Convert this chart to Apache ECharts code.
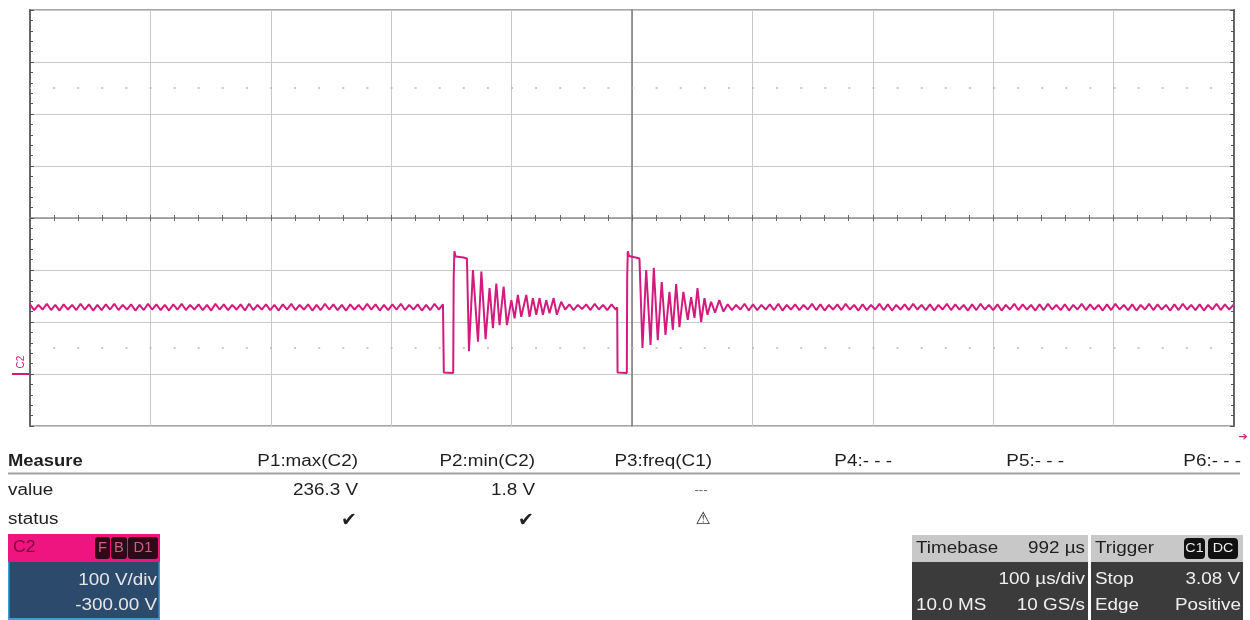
<!DOCTYPE html>
<html>
<head>
<meta charset="utf-8">
<script src="https://cdn.jsdelivr.net/npm/echarts@6/dist/echarts.min.js"></script>
<style>
html,body{margin:0;padding:0;background:#fff;}
#c{width:1250px;height:620px;}
</style>
</head>
<body>
<div id="c"></div>
<script>
// ---- Data (µs, V) ----
const rippleStep = 3.5;
const rippleAStart = -500;
const rippleA = [
134,123,133,124,135,123,133,122,134,124,133,123,135,124,134,122,133,123,134,124,
135,123,133,124,134,122,133,123,135,124,134,123,133,122,134,124,135,123,133,124,
134,123,133,122,135,124,134,123,133,124,134,122,135,123,133,124,134,123,133,122,
134,124,135,123,133,124,134,122,133,123,135,124,134,123,133,122,134,124,133,123,
135,124,134,122,133,123,134,124,135,123,133,124,134,122,133,123,135,124,134
];
const pulse1 = [
[-156.3,3],[-148.5,2],[-148.1,185],[-147.5,236],[-146.5,226],[-140,224],[-137.1,222],
[-135.4,44],[-132.1,200],[-127.9,62],[-125.1,197],[-121.6,67],[-118.3,165],[-115.5,88],
[-112.7,174],[-110.0,94],[-106.6,168],[-103.9,94],[-100.2,142],[-97.5,107],[-94.8,152],
[-92.0,110],[-87.8,152],[-85.1,110],[-82.3,146],[-79.5,114],[-76.8,146],[-74.0,114],
[-71.2,142],[-68.5,117],[-65.1,146],[-62.4,114],[-58.8,139]
];
const rippleBStart = -55.5;
const rippleB = [124,134,123,133,125,134,123,135,124,133,123,134,124];
const pulse2 = [
[-12.3,128],[-12.0,3],[-4.3,2],[-4.0,185],[-3.5,236],[-2.5,227],[3,224],[6.2,222],
[8.7,50],[11.8,200],[15.4,56],[18.1,204],[21.4,65],[24.7,177],[27.8,75],[31.1,158],
[33.9,85],[36.7,173],[39.4,90],[42.7,158],[46.3,104],[49.1,148],[51.9,108],[54.4,165],
[57.4,100],[60.2,146],[62.7,114],[65.7,139],[69,118],[72.5,142],[76,120]
];
const rippleCStart = 79.5;
const rippleC = [
134,123,133,124,135,122,134,123,133,124,134,123,135,122,133,124,134,123,133,124,
135,123,134,122,133,124,134,123,135,124,133,122,134,123,133,124,135,123,134,122,
133,124,134,123,135,124,133,123,134,122,133,124,135,123,134,124,133,122,134,123,
135,124,133,123,134,122,133,124,135,123,134,124,133,122,134,123,135,124,133,123,
134,122,133,124,135,123,134,124,133,122,134,123,135,124,133,123,134,122,133,124,
135,123,134,124,133,122,134,123,135,124,133,123,134,122,133,124,135,123,134,124,
133
];
const dottedRows = [550, 50];

const measureHeaders = ['P1:max(C2)','P2:min(C2)','P3:freq(C1)','P4:- - -','P5:- - -','P6:- - -'];
const measureValues = ['236.3 V','1.8 V','---','','',''];
const measureStatus = ['✔','✔','⚠','','',''];

// ---- build trace ----
const seg = (start, arr) => arr.map((v, i) => [start + i * rippleStep, v]);
const trace = [].concat(seg(rippleAStart, rippleA), pulse1, seg(rippleBStart, rippleB), pulse2, seg(rippleCStart, rippleC));

const chart = echarts.init(document.getElementById('c'), null, {renderer:'canvas'});

const FONT = 'Liberation Sans, Arial, sans-serif';
function txt(x, y, s, o) {
  o = o || {};
  return {
    type:'text', x:x, y:y, scaleX:o.sx || 1.18, z:o.z || 10,
    style:{text:s, x:0, y:0, fill:o.fill || '#1e1e1e', align:o.align || 'left', verticalAlign:'middle',
      font:(o.bold ? 'bold ' : '') + (o.size || 16) + 'px ' + (o.family || FONT)}
  };
}
function rect(x, y, w, h, fill, r, z) {
  return {type:'rect', z:z || 5, shape:{x:x, y:y, width:w, height:h, r:r || 0}, style:{fill:fill}};
}

const colRight = [358, 535, 712, 892, 1064, 1241];
const gfx = [];
gfx.push(txt(8, 462, 'Measure', {bold:true, sx:1.15}));
gfx.push(txt(8, 491, 'value'));
gfx.push(txt(8, 520, 'status'));
gfx.push({type:'line', z:5, shape:{x1:8, y1:473.5, x2:1240, y2:473.5}, style:{stroke:'#a0a0a0', lineWidth:2}});
measureHeaders.forEach((h, i) => gfx.push(txt(colRight[i], 462, h, {align:'right'})));
measureValues.forEach((v, i) => {
  if (!v) return;
  if (v === '---') gfx.push(txt(701, 491, v, {align:'center', size:12, fill:'#666', sx:1.1}));
  else gfx.push(txt(colRight[i], 491, v, {align:'right'}));
});
measureStatus.forEach((s, i) => {
  if (!s) return;
  if (s === '⚠') gfx.push(txt(703, 520, s, {align:'center', size:17, fill:'#333', sx:1, family:'DejaVu Sans'}));
  else gfx.push(txt(colRight[i] - 1, 521, s, {align:'right', size:19, fill:'#222', sx:1, family:'DejaVu Sans'}));
});

// C2 channel box
gfx.push(rect(8, 534, 152, 86, '#3d9fd8'));
gfx.push(rect(9.5, 562, 149, 56, '#2c4b6c', 0, 6));
gfx.push(rect(8, 534, 152, 28, '#ee1580', 0, 6));
gfx.push(txt(13, 548, 'C2', {fill:'#7d0838', sx:1.1}));
[[95,15,'F'],[111,16,'B'],[128,30,'D1']].forEach(b => {
  gfx.push(rect(b[0], 537, b[1], 22, '#2e0a18', 3, 7));
  gfx.push(txt(b[0] + b[1] / 2, 548, b[2], {align:'center', fill:'#c86088', size:14, sx:1.05, z:8}));
});
gfx.push(txt(157, 581, '100 V/div', {align:'right', fill:'#e6e6e6', z:8}));
gfx.push(txt(157, 606, '-300.00 V', {align:'right', fill:'#e6e6e6', z:8}));

// Timebase box
gfx.push(rect(912, 535, 176, 85, '#3b3b3b'));
gfx.push(rect(912, 535, 176, 27, '#c8c8c8', 0, 6));
gfx.push(txt(916, 549, 'Timebase', {z:8}));
gfx.push(txt(1085, 549, '992 µs', {align:'right', z:8}));
gfx.push(txt(1085, 580, '100 µs/div', {align:'right', fill:'#f0f0f0', z:8}));
gfx.push(txt(916, 606, '10.0 MS', {fill:'#f0f0f0', z:8}));
gfx.push(txt(1085, 606, '10 GS/s', {align:'right', fill:'#f0f0f0', z:8}));

// Trigger box
gfx.push(rect(1091, 535, 152, 85, '#3b3b3b'));
gfx.push(rect(1091, 535, 152, 27, '#c8c8c8', 0, 6));
gfx.push(txt(1095, 549, 'Trigger', {z:8}));
[[1184,21,'C1'],[1208,30,'DC']].forEach(b => {
  gfx.push(rect(b[0], 538, b[1], 21, '#111', 4, 7));
  gfx.push(txt(b[0] + b[1] / 2, 548.5, b[2], {align:'center', fill:'#eee', size:13, sx:1.1, z:8}));
});
gfx.push(txt(1095, 580, 'Stop', {fill:'#f0f0f0', z:8}));
gfx.push(txt(1240, 580, '3.08 V', {align:'right', fill:'#f0f0f0', z:8}));
gfx.push(txt(1095, 606, 'Edge', {fill:'#f0f0f0', z:8}));
gfx.push(txt(1241, 606, 'Positive', {align:'right', fill:'#f0f0f0', z:8}));

// channel ground marker and trigger arrow
gfx.push({type:'text', x:21, y:362, rotation:Math.PI/2, z:10,
  style:{text:'C2', fill:'#d21b7d', font:'10px ' + FONT, align:'center', verticalAlign:'middle'}});
gfx.push({type:'line', z:10, shape:{x1:12, y1:374, x2:29, y2:374}, style:{stroke:'#d21b7d', lineWidth:2}});
gfx.push(txt(1243, 437, '➔', {align:'center', size:11, fill:'#c0307a', sx:1, family:'DejaVu Sans'}));

const hidden = {show:false};
const option = {
  animation:false,
  backgroundColor:'#ffffff',
  grid:[
    {left:30, top:10, width:1204, height:416, show:true, borderColor:'#8a8a8a', borderWidth:1.5},
    {left:30, top:10, width:1204, height:416},
    {left:30, top:10, width:1204, height:416}
  ],
  xAxis:[
    {gridIndex:0, type:'value', min:-500, max:500, interval:100,
      axisLabel:hidden, axisLine:{show:false, onZero:false}, axisTick:hidden,
      splitLine:{show:true, lineStyle:{color:'#c9c9c9', width:1}}},
    {gridIndex:1, type:'value', min:-500, max:500, interval:100,
      axisLabel:hidden, splitLine:hidden,
      axisLine:{show:true, onZero:true, lineStyle:{color:'#8e8e8e', width:1.5}},
      axisTick:{show:true, inside:true, length:3, lineStyle:{color:'#666'}},
      minorTick:{show:true, splitNumber:5, length:3, lineStyle:{color:'#666'}}},
    {gridIndex:2, type:'value', min:-500, max:500, interval:100,
      axisLabel:hidden, splitLine:hidden,
      axisLine:{show:false, onZero:true},
      axisTick:{show:true, inside:false, length:3, lineStyle:{color:'#666'}},
      minorTick:{show:true, splitNumber:5, length:3, lineStyle:{color:'#666'}}}
  ],
  yAxis:[
    {gridIndex:0, type:'value', min:-100, max:700, interval:100,
      axisLabel:hidden,
      axisLine:{show:true, onZero:false, lineStyle:{color:'#666', width:2}},
      axisTick:{show:true, inside:true, length:4, lineStyle:{color:'#555'}},
      minorTick:{show:true, splitNumber:5, length:3, lineStyle:{color:'#555'}},
      splitLine:{show:true, lineStyle:{color:'#c9c9c9', width:1}}},
    {gridIndex:0, type:'value', position:'right', min:-100, max:700, interval:100,
      axisLabel:hidden, splitLine:hidden,
      axisLine:{show:true, onZero:false, lineStyle:{color:'#666', width:2}},
      axisTick:{show:true, inside:true, length:4, lineStyle:{color:'#555'}},
      minorTick:{show:true, splitNumber:5, length:3, lineStyle:{color:'#555'}}},
    {gridIndex:1, type:'value', min:-400, max:400, interval:100,
      axisLabel:hidden, splitLine:hidden, axisTick:hidden,
      axisLine:{show:true, onZero:true, lineStyle:{color:'#7a7a7a', width:1.5}}},
    {gridIndex:2, type:'value', min:-400, max:400, interval:100,
      axisLabel:hidden, splitLine:hidden, axisTick:hidden, axisLine:{show:false, onZero:false}}
  ],
  series:[{
    type:'line', xAxisIndex:0, yAxisIndex:0, data:trace,
    showSymbol:false, smooth:false, z:5,
    lineStyle:{color:'#d21b7d', width:2},
    markLine:{
      silent:true, symbol:'none', label:hidden,
      lineStyle:{color:'#b8b8b8', width:1.5, type:[2, 22.1], dashOffset:1},
      data:dottedRows.map(v => ({yAxis:v}))
    }
  }],
  graphic:gfx
};
chart.setOption(option);
</script>
</body>
</html>
